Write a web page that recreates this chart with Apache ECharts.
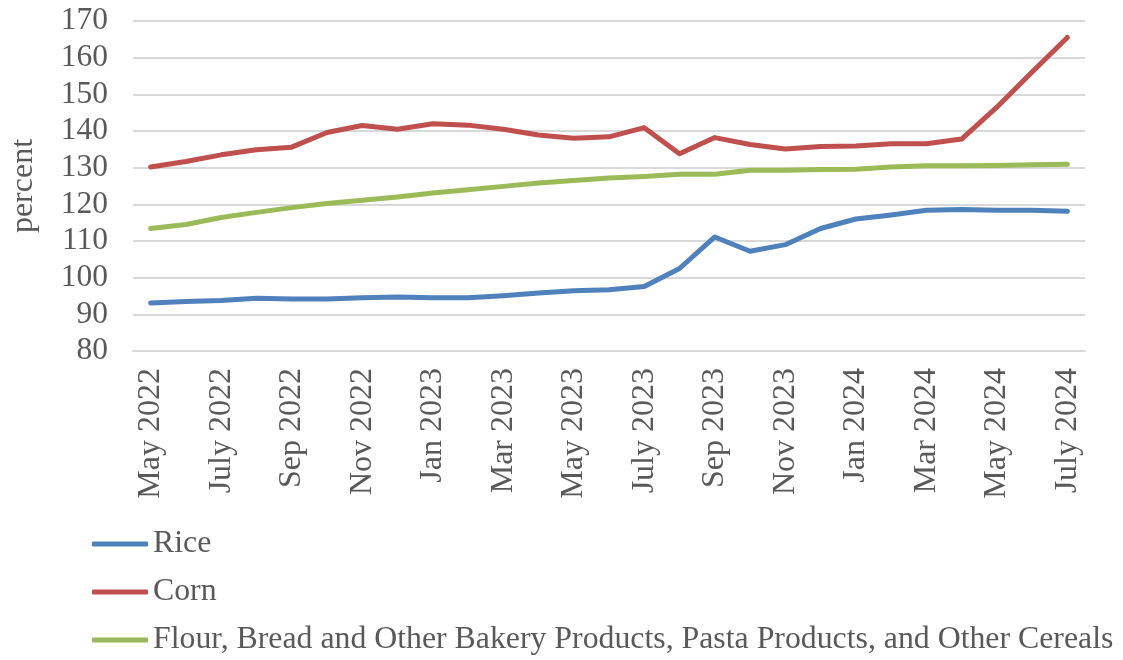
<!DOCTYPE html>
<html>
<head>
<meta charset="utf-8">
<script src="https://cdn.jsdelivr.net/npm/echarts@6/dist/echarts.min.js"></script>
<style>
  html, body { margin: 0; padding: 0; background: #fff; }
  #chart { width: 1123px; height: 660px; }
</style>
</head>
<body>
<div id="chart"></div>
<script>
const months = [
  'May 2022', 'June 2022', 'July 2022', 'Aug 2022', 'Sep 2022', 'Oct 2022', 'Nov 2022', 'Dec 2022',
  'Jan 2023', 'Feb 2023', 'Mar 2023', 'Apr 2023', 'May 2023', 'June 2023', 'July 2023', 'Aug 2023',
  'Sep 2023', 'Oct 2023', 'Nov 2023', 'Dec 2023', 'Jan 2024', 'Feb 2024', 'Mar 2024', 'Apr 2024',
  'May 2024', 'June 2024', 'July 2024'
];
const rice = [
  93.1, 93.5, 93.8, 94.4, 94.2, 94.2, 94.5, 94.7, 94.5, 94.5, 95.1, 95.8, 96.4, 96.7,
  97.6, 102.5, 111.1, 107.2, 109.0, 113.4, 116.0, 117.1, 118.4, 118.6, 118.4, 118.4, 118.1
];
const corn = [
  130.2, 131.7, 133.5, 134.9, 135.6, 139.6, 141.5, 140.5, 142.0, 141.6, 140.5, 138.9, 138.0, 138.4,
  140.9, 133.8, 138.2, 136.3, 135.1, 135.8, 135.9, 136.5, 136.5, 137.8, 146.5, 156.1, 165.5
];
const flour = [
  113.4, 114.5, 116.4, 117.8, 119.1, 120.2, 121.1, 122.0, 123.1, 124.0, 124.9, 125.8, 126.5, 127.2,
  127.6, 128.2, 128.2, 129.3, 129.3, 129.5, 129.6, 130.2, 130.5, 130.5, 130.6, 130.8, 130.9
];
const seriesNames = ['Rice', 'Corn', 'Flour, Bread and Other Bakery Products, Pasta Products, and Other Cereals'];
const colors = ['#4f81bd', '#c0504d', '#9bbb59'];

const FONT = 'Liberation Serif';
const TEXT = '#595959';

const chart = echarts.init(document.getElementById('chart'));

function lineSeries(name, data, color) {
  return {
    name: name,
    type: 'line',
    data: data,
    symbol: 'none',
    lineStyle: { width: 5, color: color, cap: 'round', join: 'round' },
    itemStyle: { color: color },
  };
}

chart.setOption({
  backgroundColor: '#fff',
  animation: false,
  grid: { left: 126, right: 38, top: 21, bottom: 309 },
  legend: {
    orient: 'vertical',
    left: 92,
    top: 528,
    padding: 0,
    itemWidth: 56,
    itemHeight: 5,
    itemGap: 16,
    icon: 'roundRect',
    textStyle: { fontFamily: FONT, fontSize: 31.8, lineHeight: 32, color: TEXT },
    data: seriesNames,
  },
  xAxis: {
    type: 'category',
    data: months,
    boundaryGap: true,
    axisLine: { show: true, lineStyle: { color: '#d9d9d9', width: 2 } },
    axisTick: { show: false },
    axisLabel: {
      interval: 1,
      rotate: 90,
      margin: 17,
      fontFamily: FONT,
      fontSize: 32,
      color: TEXT,
    },
  },
  yAxis: {
    type: 'value',
    min: 80,
    max: 170,
    interval: 10,
    name: 'percent',
    nameLocation: 'middle',
    nameGap: 93,
    nameTextStyle: { fontFamily: FONT, fontSize: 32, color: TEXT },
    axisLine: { show: false },
    axisTick: { show: false },
    axisLabel: { margin: 25, fontFamily: FONT, fontSize: 31.5, color: TEXT },
    splitLine: { lineStyle: { color: '#d9d9d9', width: 2 } },
  },
  series: [
    lineSeries(seriesNames[0], rice, colors[0]),
    lineSeries(seriesNames[1], corn, colors[1]),
    lineSeries(seriesNames[2], flour, colors[2]),
  ],
});
</script>
</body>
</html>
